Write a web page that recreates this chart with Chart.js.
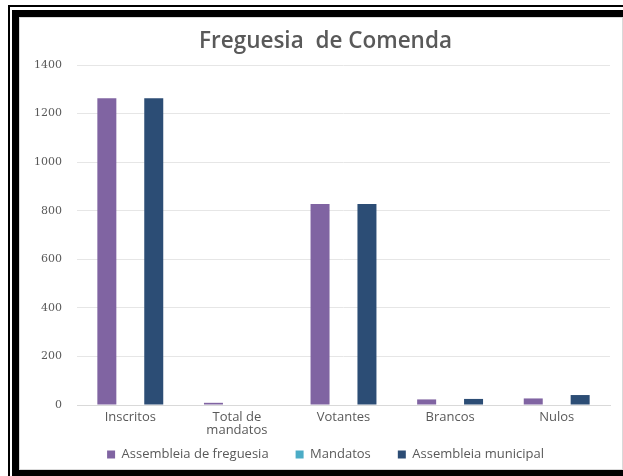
<!DOCTYPE html>
<html>
<head>
<meta charset="utf-8">
<script src="https://cdn.jsdelivr.net/npm/chart.js@4"></script>
<style>
  html, body { margin:0; padding:0; background:#fff; width:623px; height:476px; overflow:hidden; }
  #thin { position:absolute; left:8px; top:5px; width:640px; height:500px; border-left:2px solid #000; border-top:2px solid #000; box-sizing:border-box; }
  #thick { position:absolute; left:12px; top:10px; width:640px; height:466px; background:#000; }
  #panel { position:absolute; left:19px; top:17px; width:604px; height:453px; background:#fff; border:1px solid #d9d9d9; box-sizing:border-box; }
  #wrap { position:absolute; left:20px; top:18px; width:601px; height:453px; }
</style>
</head>
<body>
<div id="thin"></div>
<div id="thick"></div>
<div id="panel"></div>
<div id="wrap"><canvas id="c" width="601" height="453"></canvas></div>
<script>
const titleText = 'Freguesia  de Comenda';
const categories = ['Inscritos', ['Total de', 'mandatos'], 'Votantes', 'Brancos', 'Nulos'];
const seriesNames = ['Assembleia de freguesia', 'Mandatos', 'Assembleia municipal'];
const assembleiaFreguesia = [1263, 9, 828, 23, 27];
const mandatos = [0, 0, 0, 0, 0];
const assembleiaMunicipal = [1263, 0, 828, 25, 41];
const yTicks = [0, 200, 400, 600, 800, 1000, 1200, 1400];
const colors = ['#8064A2', '#4BACC6', '#2C4D75'];

const noLabelClip = {
  id: 'noLabelClip',
  beforeDraw(chart) {
    if (chart.scales.x) chart.scales.x._computeLabelArea = () => undefined;
  }
};

new Chart(document.getElementById('c'), {
  type: 'bar',
  plugins: [noLabelClip],
  data: {
    labels: categories,
    datasets: [
      { label: seriesNames[0], data: assembleiaFreguesia, backgroundColor: colors[0] },
      { label: seriesNames[1], data: mandatos, backgroundColor: colors[1] },
      { label: seriesNames[2], data: assembleiaMunicipal, backgroundColor: colors[2] }
    ]
  },
  options: {
    responsive: false,
    animation: false,
    devicePixelRatio: 1,
    datasets: { bar: { categoryPercentage: 0.66, barPercentage: 0.81 } },
    layout: { padding: { left: 10, right: 0, top: 0, bottom: 0 } },
    plugins: {
      title: {
        display: true, text: titleText, color: '#595959',
        font: { family: 'Open Sans', size: 22.5, weight: '600' },
        padding: { top: 10, bottom: 10 }
      },
      legend: {
        position: 'bottom',
        labels: {
          color: '#595959', font: { family: 'Open Sans', size: 13 },
          boxWidth: 8, boxHeight: 8, padding: 27
        }
      },
      tooltip: { enabled: false }
    },
    scales: {
      x: {
        grid: { display: false },
        border: { color: '#d9d9d9', width: 1 },
        ticks: { color: '#595959', font: { family: 'Open Sans', size: 13, lineHeight: 1.05 }, padding: -3, maxRotation: 0, autoSkip: false },
        afterFit: s => { s.height = 16; }
      },
      y: {
        min: 0, max: 1400,
        afterBuildTicks: s => { s.ticks = yTicks.map(v => ({ value: v })); },
        grid: { color: '#e6e6e6', drawTicks: false },
        border: { display: false },
        ticks: { color: '#595959', font: { family: 'DejaVu Serif', size: 11 }, padding: 15, callback: v => String(v) },
        afterFit: s => { s.width = 47; }
      },
      yRight: {
        position: 'right',
        display: true,
        grid: { display: false, drawTicks: false },
        border: { display: false },
        ticks: { display: false },
        afterFit: s => { s.width = 11; }
      }
    }
  }
});
</script>
</body>
</html>
